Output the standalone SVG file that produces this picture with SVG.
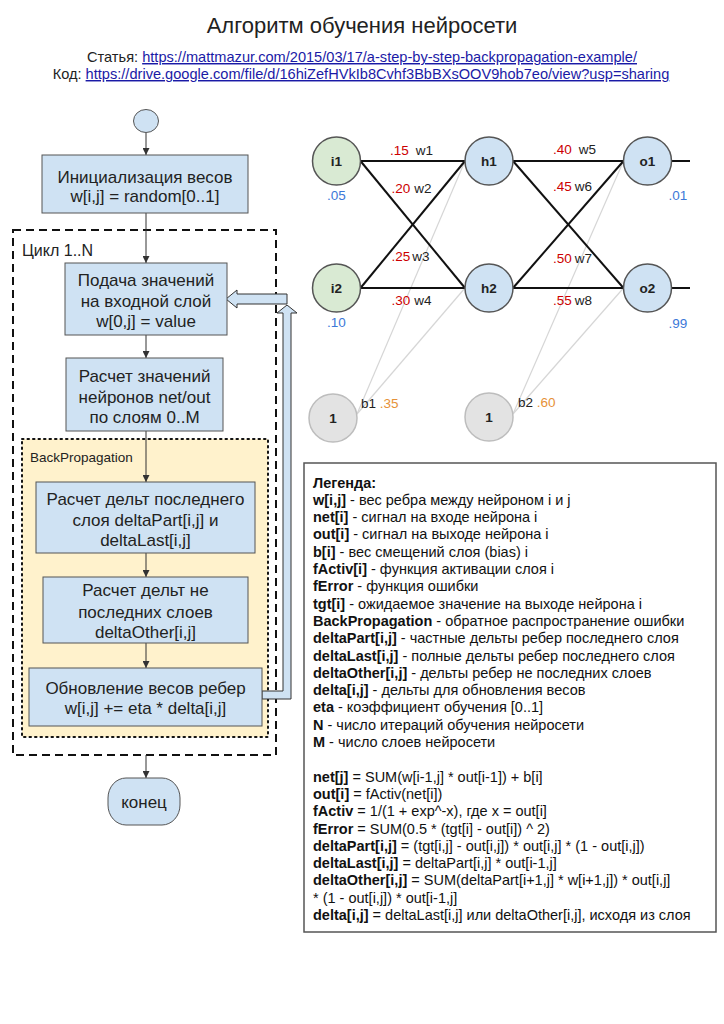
<svg xmlns="http://www.w3.org/2000/svg" width="724" height="1024" viewBox="0 0 724 1024">
<defs>
<style>
text{font-family:"Liberation Sans",Arial,sans-serif;fill:#222}
.box{fill:#cfe2f3;stroke:#555;stroke-width:1}
.ft{font-size:17px;text-anchor:middle}
.fl{stroke:#333;stroke-width:1;fill:none;marker-end:url(#ah)}
.edge{stroke:#111;stroke-width:2}
.bias{stroke:#d6d6d6;stroke-width:1.2}
.in{fill:#d9ead3;stroke:#555;stroke-width:1.5}
.hn{fill:#cfe2f3;stroke:#555;stroke-width:1.5}
.bn{fill:#e3e3e3;stroke:#bdbdbd;stroke-width:1.5}
.nl{font-size:13.5px;font-weight:bold;text-anchor:middle}
.wl{font-size:13.5px}
.r{fill:#cc0000}
.bl{fill:#3c78d8;font-size:13.5px;text-anchor:middle}
.or{fill:#e69138}
.lg{font-size:14.5px;fill:#111}
.b{font-weight:bold}
.lnk{fill:#1a1aa6;text-decoration:underline}
.blk{fill:#cfe2f3;stroke:#333;stroke-width:1}
</style>
<marker id="ah" viewBox="0 0 10 10" refX="10" refY="5" markerWidth="7" markerHeight="7" orient="auto" markerUnits="userSpaceOnUse">
<path d="M0,0 L10,5 L0,10 Z" fill="#333"/>
</marker>
</defs>
<rect width="724" height="1024" fill="#fff"/>

<g id="title">
<text x="362" y="33" font-size="22" text-anchor="middle">Алгоритм обучения нейросети</text>
<text x="362" y="62" font-size="14.6" text-anchor="middle">Статья: <tspan class="lnk">https://mattmazur.com/2015/03/17/a-step-by-step-backpropagation-example/</tspan></text>
<text x="361" y="79" font-size="14.6" text-anchor="middle">Код: <tspan class="lnk">https://drive.google.com/file/d/16hiZefHVkIb8Cvhf3BbBXsOOV9hob7eo/view?usp=sharing</tspan></text>
</g>

<g id="loop">
<rect x="13" y="230" width="263" height="525" fill="none" stroke="#111" stroke-width="2" stroke-dasharray="8 5"/>
<text x="22" y="256" font-size="16">Цикл 1..N</text>
</g>
<g id="backprop">
<rect x="22" y="439" width="246" height="298" fill="#fff2cc" stroke="#111" stroke-width="2" stroke-dasharray="1.5 4" stroke-linecap="round"/>
<text x="30" y="462" font-size="13.5">BackPropagation</text>
</g>

<g id="connectors">
<line class="fl" x1="146" y1="133" x2="146" y2="155"/>
<line class="fl" x1="146" y1="213" x2="146" y2="263"/>
<line class="fl" x1="146" y1="335" x2="146" y2="358"/>
<line class="fl" x1="146" y1="431" x2="146" y2="482"/>
<line class="fl" x1="146" y1="553" x2="146" y2="577"/>
<line class="fl" x1="146" y1="643" x2="146" y2="668"/>
<line class="fl" x1="146" y1="755" x2="146" y2="778"/>
<path class="blk" d="M262,691 L283,691 L283,313 L277,313 L287,305 L297,313 L291,313 L291,699 L262,699 Z"/>
<path class="blk" d="M287,294 L237,294 L237,290 L226,299 L237,308 L237,304 L287,304 Z"/>
<line class="bias" x1="357" y1="414" x2="465" y2="161"/>
<line class="bias" x1="357" y1="414" x2="465" y2="288"/>
<line class="bias" x1="513" y1="414" x2="623.5" y2="161"/>
<line class="bias" x1="513" y1="414" x2="623.5" y2="288"/>
<line class="edge" x1="360.5" y1="161" x2="465" y2="161"/>
<line class="edge" x1="360.5" y1="161" x2="465" y2="288"/>
<line class="edge" x1="360.5" y1="288" x2="465" y2="161"/>
<line class="edge" x1="360.5" y1="288" x2="465" y2="288"/>
<line class="edge" x1="513" y1="161" x2="623.5" y2="161"/>
<line class="edge" x1="513" y1="161" x2="623.5" y2="288"/>
<line class="edge" x1="513" y1="288" x2="623.5" y2="161"/>
<line class="edge" x1="513" y1="288" x2="623.5" y2="288"/>
<line class="edge" x1="671.5" y1="161" x2="690" y2="161"/>
<line class="edge" x1="671.5" y1="288" x2="690" y2="288"/>
</g>

<g id="start"><ellipse cx="146" cy="121" rx="12.5" ry="11.5" class="box"/></g>
<g id="init">
<rect class="box" x="42" y="155" width="206" height="58"/>
<text class="ft" x="145" y="182.5">Инициализация весов</text>
<text class="ft" x="145" y="201.5">w[i,j] = random[0..1]</text>
</g>
<g id="input">
<rect class="box" x="65" y="263" width="162" height="72"/>
<text class="ft" x="146" y="286">Подача значений</text>
<text class="ft" x="146" y="307">на входной слой</text>
<text class="ft" x="146" y="327">w[0,j] = value</text>
</g>
<g id="forward">
<rect class="box" x="66" y="358" width="157" height="73"/>
<text class="ft" x="144.5" y="382">Расчет значений</text>
<text class="ft" x="144.5" y="402.5">нейронов net/out</text>
<text class="ft" x="144.5" y="422.5">по слоям 0..M</text>
</g>
<g id="deltalast">
<rect class="box" x="36" y="482" width="219" height="71"/>
<text class="ft" x="145.5" y="505">Расчет дельт последнего</text>
<text class="ft" x="145.5" y="526">слоя deltaPart[i,j] и</text>
<text class="ft" x="145.5" y="546">deltaLast[i,j]</text>
</g>
<g id="deltaother">
<rect class="box" x="43" y="577" width="205" height="66"/>
<text class="ft" x="145.5" y="596">Расчет дельт не</text>
<text class="ft" x="145.5" y="617.5">последних слоев</text>
<text class="ft" x="145.5" y="637.5">deltaOther[i,j]</text>
</g>
<g id="update">
<rect class="box" x="29" y="668" width="233" height="58"/>
<text class="ft" x="145.5" y="694">Обновление весов ребер</text>
<text class="ft" x="145.5" y="714">w[i,j] += eta * delta[i,j]</text>
</g>
<g id="end">
<rect class="box" x="108" y="778" width="72" height="47" rx="18" ry="20"/>
<text class="ft" x="144" y="808">конец</text>
</g>

<g id="i1"><circle class="in" cx="336.5" cy="161" r="24"/><text class="nl" x="336.5" y="166">i1</text><text class="bl" x="336.5" y="199.5">.05</text></g>
<g id="i2"><circle class="in" cx="336.5" cy="288" r="24"/><text class="nl" x="336.5" y="293">i2</text><text class="bl" x="336.5" y="327">.10</text></g>
<g id="h1"><circle class="hn" cx="489" cy="161" r="24"/><text class="nl" x="489" y="166">h1</text></g>
<g id="h2"><circle class="hn" cx="489" cy="288" r="24"/><text class="nl" x="489" y="293">h2</text></g>
<g id="o1"><circle class="hn" cx="647.5" cy="161" r="24"/><text class="nl" x="647.5" y="166">o1</text><text class="bl" x="678" y="199.5">.01</text></g>
<g id="o2"><circle class="hn" cx="647.5" cy="288" r="24"/><text class="nl" x="647.5" y="293">o2</text><text class="bl" x="678" y="327.5">.99</text></g>
<g id="b1"><circle class="bn" cx="333" cy="418" r="24"/><text class="nl" x="333" y="423">1</text><text class="wl" x="361" y="407.5">b1 <tspan class="or">.35</tspan></text></g>
<g id="b2"><circle class="bn" cx="489" cy="417" r="24"/><text class="nl" x="489" y="422">1</text><text class="wl" x="518" y="406.5">b2 <tspan class="or">.60</tspan></text></g>

<g id="weights">
<text class="wl" x="390" y="154.5"><tspan class="r">.15</tspan><tspan dx="7">w1</tspan></text>
<text class="wl" x="391.5" y="192.5"><tspan class="r">.20</tspan><tspan dx="4">w2</tspan></text>
<text class="wl" x="391.5" y="261"><tspan class="r">.25</tspan><tspan dx="2">w3</tspan></text>
<text class="wl" x="391.5" y="304.5"><tspan class="r">.30</tspan><tspan dx="4">w4</tspan></text>
<text class="wl" x="553" y="153.5"><tspan class="r">.40</tspan><tspan dx="7">w5</tspan></text>
<text class="wl" x="553" y="191"><tspan class="r">.45</tspan><tspan dx="3">w6</tspan></text>
<text class="wl" x="553" y="262.5"><tspan class="r">.50</tspan><tspan dx="3">w7</tspan></text>
<text class="wl" x="553" y="304.5"><tspan class="r">.55</tspan><tspan dx="3">w8</tspan></text>
</g>

<g id="legend">
<rect x="304" y="463" width="412" height="469" fill="#fff" stroke="#555" stroke-width="1.5"/>
<text class="lg" x="313" y="487.5"><tspan class="b">Легенда:</tspan></text>
<text class="lg" x="313" y="504.8"><tspan class="b">w[i,j]</tspan> - вес ребра между нейроном i и j</text>
<text class="lg" x="313" y="522.1"><tspan class="b">net[i]</tspan> - сигнал на входе нейрона i</text>
<text class="lg" x="313" y="539.4"><tspan class="b">out[i]</tspan> - сигнал на выходе нейрона i</text>
<text class="lg" x="313" y="556.7"><tspan class="b">b[i]</tspan> - вес смещений слоя (bias) i</text>
<text class="lg" x="313" y="574"><tspan class="b">fActiv[i]</tspan> - функция активации слоя i</text>
<text class="lg" x="313" y="591.3"><tspan class="b">fError</tspan> - функция ошибки</text>
<text class="lg" x="313" y="608.6"><tspan class="b">tgt[i]</tspan> - ожидаемое значение на выходе нейрона i</text>
<text class="lg" x="313" y="625.9"><tspan class="b">BackPropagation</tspan> - обратное распространение ошибки</text>
<text class="lg" x="313" y="643.2"><tspan class="b">deltaPart[i,j]</tspan> - частные дельты ребер последнего слоя</text>
<text class="lg" x="313" y="660.5"><tspan class="b">deltaLast[i,j]</tspan> - полные дельты ребер последнего слоя</text>
<text class="lg" x="313" y="677.8"><tspan class="b">deltaOther[i,j]</tspan> - дельты ребер не последних слоев</text>
<text class="lg" x="313" y="695.1"><tspan class="b">delta[i,j]</tspan> - дельты для обновления весов</text>
<text class="lg" x="313" y="712.4"><tspan class="b">eta</tspan> - коэффициент обучения [0..1]</text>
<text class="lg" x="313" y="729.7"><tspan class="b">N</tspan> - число итераций обучения нейросети</text>
<text class="lg" x="313" y="747"><tspan class="b">M</tspan> - число слоев нейросети</text>
<text class="lg" x="313" y="781.6"><tspan class="b">net[j]</tspan> = SUM(w[i-1,j] * out[i-1]) + b[i]</text>
<text class="lg" x="313" y="798.9"><tspan class="b">out[i]</tspan> = fActiv(net[i])</text>
<text class="lg" x="313" y="816.2"><tspan class="b">fActiv</tspan> = 1/(1 + exp^-x), где x = out[i]</text>
<text class="lg" x="313" y="833.5"><tspan class="b">fError</tspan> = SUM(0.5 * (tgt[i] - out[i]) ^ 2)</text>
<text class="lg" x="313" y="850.8"><tspan class="b">deltaPart[i,j]</tspan> = (tgt[i,j] - out[i,j]) * out[i,j] * (1 - out[i,j])</text>
<text class="lg" x="313" y="868.1"><tspan class="b">deltaLast[i,j]</tspan> = deltaPart[i,j] * out[i-1,j]</text>
<text class="lg" x="313" y="885.4"><tspan class="b">deltaOther[i,j]</tspan> = SUM(deltaPart[i+1,j] * w[i+1,j]) * out[i,j]</text>
<text class="lg" x="313" y="902.7">* (1 - out[i,j]) * out[i-1,j]</text>
<text class="lg" x="313" y="920"><tspan class="b">delta[i,j]</tspan> = deltaLast[i,j] или deltaOther[i,j], исходя из слоя</text>
</g>
</svg>
